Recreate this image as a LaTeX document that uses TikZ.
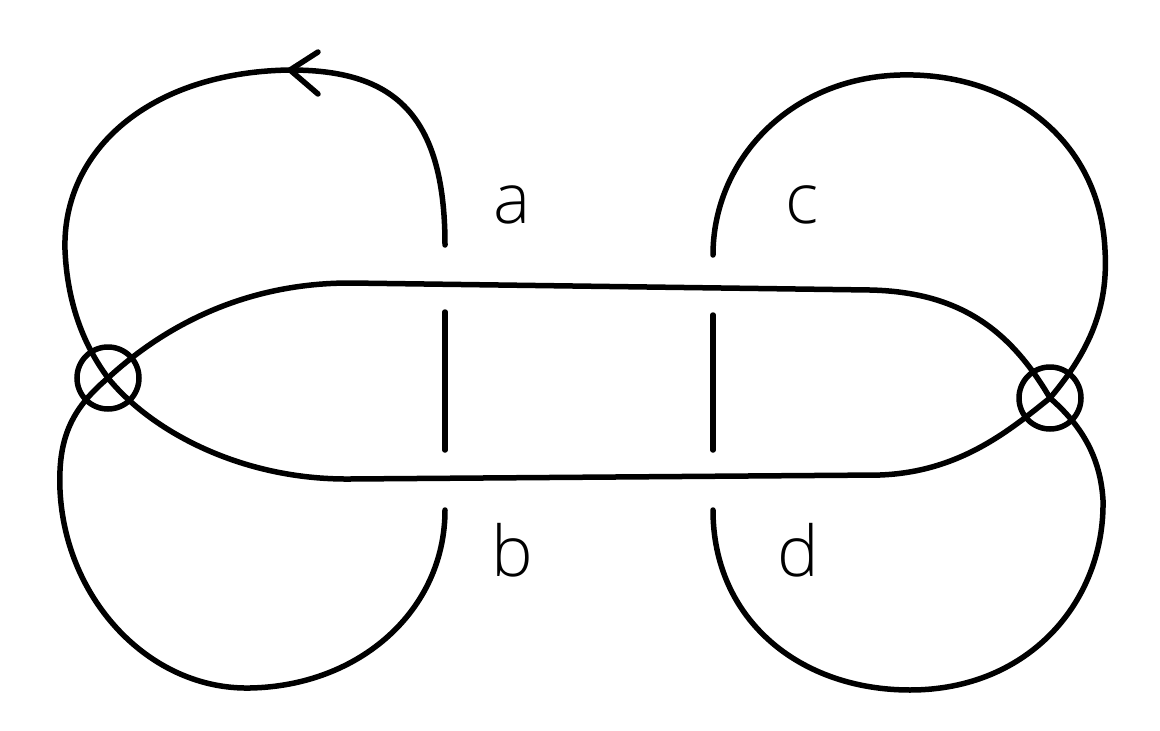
\documentclass[tikz,border=0pt]{standalone}
\usepackage{fontspec}
\setmainfont{Open Sans Light}
\usetikzlibrary{arrows.meta}
\begin{document}
\begin{tikzpicture}[x=1pt,y=-1pt,line width=5.5pt,
  strand/.style={draw=black,line cap=round},
  vx/.style={circle,draw=black,line width=5.5pt,minimum size=62pt,inner sep=0pt},
  lbl/.style={font=\fontsize{70}{70}\selectfont}]
\useasboundingbox (0,0) rectangle (1160,731);
\draw[strand] (445,245) .. controls (445,110) and (390,70) .. (290,70)
  .. controls (150,72) and (62,150) .. (65,250)
  .. controls (68,320) and (95,360) .. (108,378)
  .. controls (150,430) and (240,480) .. (350,479)
  -- (880,475) .. controls (960,472) and (1010,430) .. (1050,398)
  .. controls (1095,345) and (1108,300) .. (1105,250)
  .. controls (1100,140) and (1010,72) .. (900,75)
  .. controls (790,78) and (713,160) .. (713,255);
\draw[strand] (713,315) -- (713,450);
\draw[strand] (445,312) -- (445,450);
\draw[strand] (713,510) .. controls (713,620) and (800,690) .. (910,690)
  .. controls (1030,690) and (1105,600) .. (1103,500)
  .. controls (1100,450) and (1075,420) .. (1050,398)
  .. controls (1010,330) and (960,292) .. (870,290)
  -- (350,283) .. controls (240,283) and (160,330) .. (108,378)
  .. controls (70,410) and (58,440) .. (60,490)
  .. controls (65,600) and (150,690) .. (250,688)
  .. controls (360,686) and (445,610) .. (445,510);
\draw[strand] (318,52) -- (290,70) -- (318,94);
\node[vx] (v1) at (108,378) {};
\node[vx] (v2) at (1050,398) {};
\node[lbl] (a) at (512,205) {a};
\node[lbl] (b) at (512,550) {b};
\node[lbl] (c) at (802,205) {c};
\node[lbl] (d) at (798,550) {d};
\end{tikzpicture}
\end{document}
